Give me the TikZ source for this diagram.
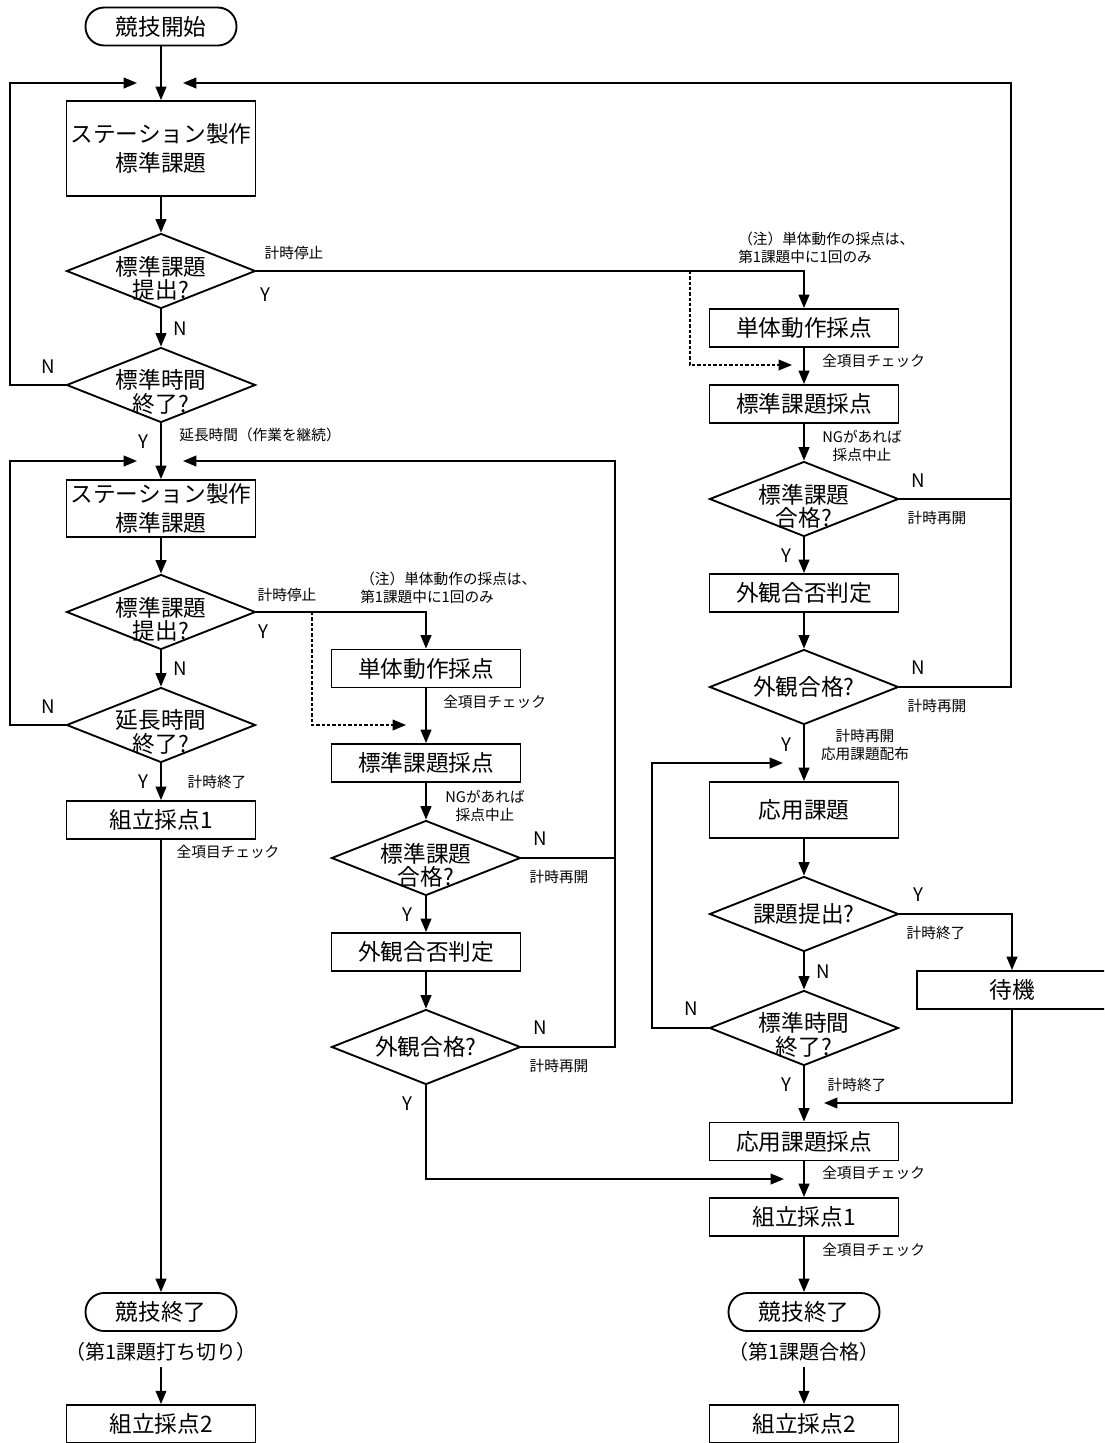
\documentclass[tikz,border=0pt]{standalone}
\usepackage{fontspec}
\setmainfont{Noto Sans CJK JP}
\usetikzlibrary{arrows.meta,shapes.geometric}
\tikzset{
  lw/.style={line width=1.4pt},
  proc/.style={draw, lw, rectangle, minimum width=141.75pt, minimum height=28.5pt, inner sep=0pt, align=center, font=\fontsize{17}{22}\selectfont},
  dia/.style={draw, lw, diamond, minimum width=141.75pt, minimum height=56.25pt, inner sep=0pt},
  dtxt/.style={inner sep=0pt, align=center, font=\fontsize{17}{17.5}\selectfont},
  term/.style={draw, lw, rectangle, rounded corners=14pt, minimum width=113.25pt, minimum height=28.5pt, inner sep=0pt, font=\fontsize{17}{22}\selectfont},
  lbl/.style={inner sep=0pt, align=center, font=\fontsize{11}{14}\selectfont},
  lbll/.style={inner sep=0pt, align=left, anchor=west, font=\fontsize{11}{13.5}\selectfont},
  yn/.style={inner sep=0pt, font=\fontsize{14}{16}\selectfont},
  sub/.style={inner sep=0pt, font=\fontsize{15}{18}\selectfont},
  arr/.style={lw, -{Triangle[length=10pt,width=8pt]}},
  dsh/.style={line width=1.1pt, dash pattern=on 2.5pt off 1.5pt, -{Triangle[length=10pt,width=8pt]}},
}
\begin{document}
\begin{tikzpicture}[x=0.75pt,y=-0.75pt]
\useasboundingbox (0,0) rectangle (1104,1443);
\clip (0,0) rectangle (1104,1443);
% ---------------- left column
\node[term] (start) at (161,26.5) {競技開始};
\node[proc, minimum height=71.25pt] (b1) at (161,148.5) {ステーション製作\\標準課題};
\node[dia] (d1) at (161,271) {};
\node[dtxt] (d1t) at (161,278) {標準課題\\提出?};
\node[dia] (d2) at (161,385) {};
\node[dtxt] (d2t) at (161,392) {標準時間\\終了?};
\node[proc, minimum height=42.75pt] (b2) at (161,508.5) {ステーション製作\\標準課題};
\node[dia] (d3) at (161,612) {};
\node[dtxt] (d3t) at (161,619) {標準課題\\提出?};
\node[dia] (d4) at (161,725) {};
\node[dtxt] (d4t) at (161,732) {延長時間\\終了?};
\node[proc] (a1L) at (161,820) {組立採点1};
\node[term] (endL) at (161,1312) {競技終了};
\node[sub] (noteL) at (161,1352) {（第1課題打ち切り）};
\node[proc] (a2L) at (161,1424) {組立採点2};
% ---------------- middle column
\node[proc] (m1) at (426,668.5) {単体動作採点};
\node[proc] (m2) at (426,763) {標準課題採点};
\node[dia] (m3) at (426,858) {};
\node[dtxt] (m3t) at (426,865) {標準課題\\合格?};
\node[proc] (m4) at (426,952) {外観合否判定};
\node[dia] (m5) at (426,1047) {};
\node[dtxt] (m5t) at (426,1047) {外観合格?};
% ---------------- right column
\node[proc] (r1) at (804,328) {単体動作採点};
\node[proc] (r2) at (804,404) {標準課題採点};
\node[dia] (r3) at (804,499) {};
\node[dtxt] (r3t) at (804,506) {標準課題\\合格?};
\node[proc] (r4) at (804,593) {外観合否判定};
\node[dia] (r5) at (804,687) {};
\node[dtxt] (r5t) at (804,687) {外観合格?};
\node[proc, minimum height=42pt] (r6) at (804,810) {応用課題};
\node[dia] (r7) at (804,914) {};
\node[dtxt] (r7t) at (804,914) {課題提出?};
\node[dia] (r8) at (804,1028) {};
\node[dtxt] (r8t) at (804,1035) {標準時間\\終了?};
\node[proc] (r9) at (804,1141.5) {応用課題採点};
\node[proc] (r10) at (804,1217) {組立採点1};
\node[term] (endR) at (804,1312) {競技終了};
\node[sub] (noteR) at (804,1352) {（第1課題合格）};
\node[proc] (r11) at (804,1424) {組立採点2};
\node[proc, minimum width=142.5pt] (wait) at (1012,990) {待機};
% ---------------- helper coordinates
\coordinate (lx1) at (10,83);
\coordinate (fbL1) at (137,83);
\coordinate (rx1) at (1011,83);
\coordinate (fbR1) at (183,83);
\coordinate (lx2) at (10,461);
\coordinate (fbL2) at (137,461);
\coordinate (mx2) at (615,461);
\coordinate (fbR2) at (183,461);
\coordinate (ds1) at (690,271);
\coordinate (ds1e) at (792,365);
\coordinate (ds2) at (312,612);
\coordinate (ds2e) at (406,725);
\coordinate (mjoin) at (784,1179);
\coordinate (rx3) at (652,763);
\coordinate (fbR3) at (783,763);
\coordinate (wj) at (824,1103);
% ---------------- connectors left
\draw[arr] (start) -- (b1);
\draw[arr] (b1) -- (d1);
\draw[arr] (d1) -- (d2);
\draw[arr] (d2.west) -| (lx1) -- (fbL1);
\draw[arr] (d2) -- (b2);
\draw[arr] (b2) -- (d3);
\draw[arr] (d3) -- (d4);
\draw[arr] (d4.west) -| (lx2) -- (fbL2);
\draw[arr] (d4) -- (a1L);
\draw[arr] (a1L) -- (endL);
\draw[arr] ([yshift=-4pt]noteL.south) -- (a2L);
\draw[arr] (d1.east) -| (r1.north);
\draw[dsh] (ds1) |- (ds1e);
\draw[arr] (d3.east) -| (m1.north);
\draw[dsh] (ds2) |- (ds2e);
% ---------------- connectors middle
\draw[arr] (m1) -- (m2);
\draw[arr] (m2) -- (m3);
\draw[arr] (m3) -- (m4);
\draw[arr] (m4) -- (m5);
\draw[arr] (m3.east) -| (mx2) -- (fbR2);
\draw[lw] (m5.east) -| (m3.east -| mx2);
\draw[arr] (m5.south) |- (mjoin);
% ---------------- connectors right
\draw[arr] (r1) -- (r2);
\draw[arr] (r2) -- (r3);
\draw[arr] (r3) -- (r4);
\draw[arr] (r4) -- (r5);
\draw[arr] (r3.east) -| (rx1) -- (fbR1);
\draw[lw] (r5.east) -| (r3.east -| rx1);
\draw[arr] (r5) -- (r6);
\draw[arr] (r6) -- (r7);
\draw[arr] (r7) -- (r8);
\draw[arr] (r7.east) -| (wait.north);
\draw[arr] (wait.south) |- (wj);
\draw[arr] (r8.west) -| (rx3) -- (fbR3);
\draw[arr] (r8) -- (r9);
\draw[arr] (r9) -- (r10);
\draw[arr] (r10) -- (endR);
\draw[arr] ([yshift=-4pt]noteR.south) -- (r11);
% ---------------- labels left
\node[lbl] (l1) at (294,253) {計時停止};
\node[yn] (y1) at (265,295) {Y};
\node[yn] (n1) at (180,329) {N};
\node[yn] (n2) at (48,367) {N};
\node[yn] (y2) at (143,442) {Y};
\node[lbl] (l2) at (260,435) {延長時間（作業を継続）};
\node[lbl] (l3) at (287,595) {計時停止};
\node[yn] (y3) at (263,632) {Y};
\node[yn] (n3) at (180,669) {N};
\node[yn] (n4) at (48,707) {N};
\node[yn] (y4) at (143,782) {Y};
\node[lbl] (l4) at (217,782) {計時終了};
\node[lbl] (l5) at (228,852) {全項目チェック};
% ---------------- labels middle
\node[lbll] (l6) at (360,588) {（注）単体動作の採点は、\\第1課題中に1回のみ};
\node[lbll] (l7) at (443,702) {全項目チェック};
\node[lbl] (l8) at (485,806) {NGがあれば\\採点中止};
\node[yn] (n5) at (540,839) {N};
\node[lbl] (l9) at (559,877) {計時再開};
\node[yn] (y5) at (407,915) {Y};
\node[yn] (n6) at (540,1028) {N};
\node[lbl] (l10) at (559,1066) {計時再開};
\node[yn] (y6) at (407,1104) {Y};
% ---------------- labels right
\node[lbll] (l11) at (738,248) {（注）単体動作の採点は、\\第1課題中に1回のみ};
\node[lbll] (l12) at (822,361) {全項目チェック};
\node[lbl] (l13) at (862,446) {NGがあれば\\採点中止};
\node[yn] (n7) at (918,481) {N};
\node[lbl] (l14) at (937,518) {計時再開};
\node[yn] (y7) at (786,556) {Y};
\node[yn] (n8) at (918,668) {N};
\node[lbl] (l15) at (937,706) {計時再開};
\node[yn] (y8) at (786,745) {Y};
\node[lbl] (l16) at (865,745) {計時再開\\応用課題配布};
\node[yn] (y9) at (918,895) {Y};
\node[lbl] (l17) at (936,933) {計時終了};
\node[yn] (n9) at (823,972) {N};
\node[yn] (n10) at (691,1009) {N};
\node[yn] (y10) at (786,1085) {Y};
\node[lbl] (l18) at (857,1085) {計時終了};
\node[lbll] (l19) at (822,1173) {全項目チェック};
\node[lbll] (l20) at (822,1250) {全項目チェック};
\end{tikzpicture}
\end{document}
